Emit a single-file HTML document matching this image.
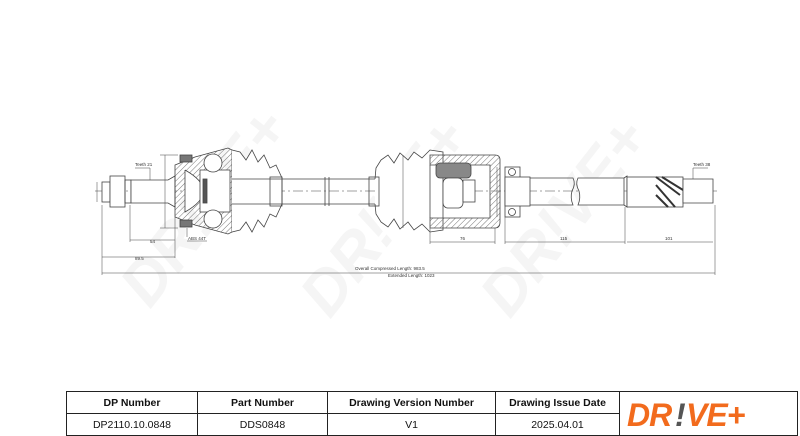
<!DOCTYPE html>
<html><head><style>
body{margin:0;background:#fff;width:800px;height:436px;overflow:hidden;font-family:"Liberation Sans",sans-serif}
svg{position:absolute;left:0;top:0}
table{position:absolute;left:66px;top:391px;border-collapse:collapse;width:732px;height:44px}
td{border:1px solid #222;font-size:10.5px;text-align:center;padding:0;height:21px;color:#111}
.h td{font-weight:bold}
</style></head><body>
<svg width="800" height="436" viewBox="0 0 800 436">
<defs><pattern id="ht" width="4" height="4" patternUnits="userSpaceOnUse" patternTransform="rotate(45)"><line x1="0" y1="0" x2="0" y2="4" stroke="#777" stroke-width="1"/></pattern></defs>
<g fill="#f5f5f5" font-weight="bold" font-style="italic" font-size="62">
<text transform="translate(150 310) rotate(-52)">DR!VE+</text>
<text transform="translate(330 320) rotate(-52)">DR!VE+</text>
<text transform="translate(510 320) rotate(-52)">DR!VE+</text>
</g>
<g stroke="#444" stroke-width="0.8" fill="none">
<line x1="95" y1="191" x2="720" y2="191" stroke-dasharray="10,3,2,3" stroke-width="0.5"/>
<rect x="102" y="182" width="8" height="20" fill="#fff"/>
<rect x="110" y="176" width="15" height="31" fill="#fff"/>
<rect x="125" y="180" width="6" height="23"/>
<path d="M131 180 H168 L175 176 V207 L168 203 H131 Z" fill="#fff"/>
<path d="M175 165 L195 157 L228 148 L232 150 L232 232 L228 234 L195 225 L175 217 Z" fill="url(#ht)"/>
<path d="M185 170 Q222 191 185 212 L185 170" fill="#fff"/>
<rect x="180" y="155" width="12" height="7" fill="#777"/>
<rect x="180" y="220" width="12" height="7" fill="#777"/>
<rect x="200" y="170" width="30" height="42" fill="#fff"/>
<circle cx="213" cy="163" r="9" fill="#fff"/><circle cx="213" cy="219" r="9" fill="#fff"/>
<rect x="203" y="179" width="4" height="24" fill="#555"/>
<path d="M232 150 L240 152 L246 160 L252 150 L258 162 L264 155 L270 168 L276 165 L282 178 L282 204 L276 217 L270 214 L264 227 L258 220 L252 232 L246 222 L240 230 L232 232" fill="#fff"/>
<rect x="270" y="177" width="12" height="29"/>
<path d="M232 179 H375 M232 204 H375"/>
<line x1="325" y1="177" x2="325" y2="206"/><line x1="329" y1="177" x2="329" y2="206"/>
<path d="M375 179 L376 168 L381 160 L388 155 L394 163 L400 153 L408 160 L414 152 L422 158 L430 150 L443 152 L443 230 L430 232 L422 224 L414 230 L408 222 L400 229 L394 219 L388 227 L381 222 L376 214 L375 204" fill="#fff"/>
<rect x="369" y="177" width="10" height="29"/>
<path d="M430 155 H495 Q500 155 500 160 V222 Q500 228 495 228 H430 V218 H490 V165 H430 Z" fill="url(#ht)"/>
<rect x="436" y="163" width="35" height="15" rx="4" fill="#888"/>
<rect x="443" y="178" width="20" height="30" rx="5" fill="#fff"/>
<rect x="463" y="180" width="12" height="22" fill="#fff"/>
<path d="M430 165 V218"/>
<rect x="505" y="167" width="15" height="50" fill="#fff"/>
<circle cx="512" cy="172" r="3.5"/><circle cx="512" cy="212" r="3.5"/>
<rect x="505" y="177" width="25" height="29" fill="#fff"/>
<path d="M530 178 H573 Q576 184 572 191 Q570 198 573 205 H530"/>
<path d="M578 178 Q575 184 579 191 Q581 198 578 205 H624 V178 Z" fill="#fff"/>
<path d="M624 178 L627 176 V207 L624 205"/>
<rect x="627" y="177" width="56" height="30" fill="#fff"/>
<path d="M656 177 L680 195 M662 177 L683 190 M656 185 L675 207 M656 195 L668 207" stroke="#333" stroke-width="2"/>
<path d="M683 179 H713 V203 H683 Z" fill="#fff"/>
<g stroke-width="0.5">
<line x1="102" y1="205" x2="102" y2="275"/><line x1="130" y1="205" x2="130" y2="242"/><line x1="175" y1="217" x2="175" y2="258"/>
<line x1="130" y1="240" x2="175" y2="240"/><line x1="102" y1="257" x2="175" y2="257"/>
<line x1="102" y1="273" x2="715" y2="273"/><line x1="715" y1="205" x2="715" y2="275"/>
<line x1="430" y1="228" x2="430" y2="244"/><line x1="495" y1="228" x2="495" y2="244"/>
<line x1="430" y1="242" x2="495" y2="242"/>
<line x1="505" y1="217" x2="505" y2="244"/><line x1="625" y1="207" x2="625" y2="244"/>
<line x1="505" y1="242" x2="625" y2="242"/><line x1="627" y1="242" x2="713" y2="242"/>
<line x1="165" y1="155" x2="165" y2="228"/><line x1="160" y1="155" x2="178" y2="155"/><line x1="160" y1="228" x2="178" y2="228"/>
<line x1="97" y1="182" x2="97" y2="202"/>
<line x1="150" y1="168" x2="150" y2="180"/><line x1="135" y1="168" x2="150" y2="168"/>
<line x1="693" y1="168" x2="693" y2="179"/><line x1="693" y1="168" x2="708" y2="168"/>
<line x1="187" y1="237" x2="187" y2="228"/><line x1="187" y1="241" x2="207" y2="241"/>
<line x1="497" y1="167" x2="497" y2="217"/><line x1="403" y1="155" x2="403" y2="228"/>
</g>
</g>
<g font-size="4.5" fill="#333">
<text x="135" y="166">Teeth 21</text><text x="150" y="243">54</text><text x="135" y="260">89.5</text>
<text x="188" y="240">ABS 44T</text><text x="460" y="240">76</text><text x="560" y="240">115</text><text x="665" y="240">101</text>
<text x="693" y="166">Teeth 38</text>
<text x="355" y="270">Overall  Compressed  Length: 983.5</text>
<text x="388" y="277">Extended  Length: 1023</text>
</g>
<g font-weight="bold" font-style="italic" font-size="32" letter-spacing="-1">
<text x="627" y="426" fill="#f26b1d">DR</text><text x="675" y="426" fill="#555">!</text><text x="686" y="426" fill="#f26b1d">VE+</text>
</g>
</svg>
<table>
<tr class="h"><td style="width:130px">DP Number</td><td style="width:129px">Part Number</td><td style="width:167px">Drawing Version Number</td><td style="width:123px">Drawing Issue Date</td><td rowspan="2"></td></tr>
<tr><td>DP2110.10.0848</td><td>DDS0848</td><td>V1</td><td>2025.04.01</td></tr>
</table>
</body></html>
